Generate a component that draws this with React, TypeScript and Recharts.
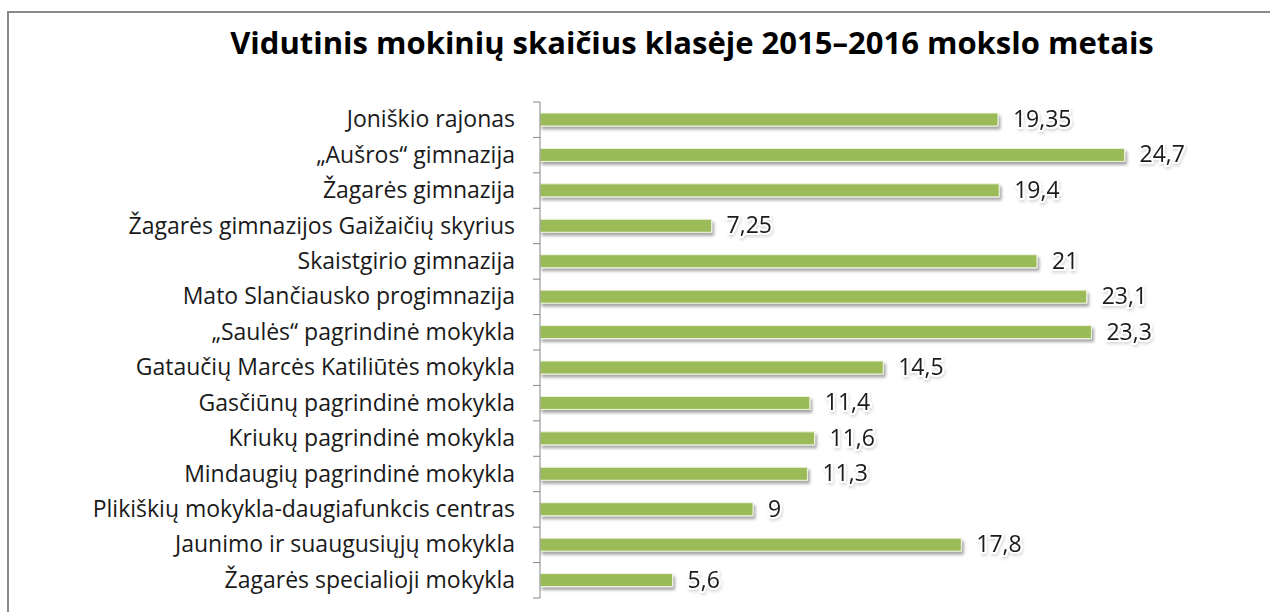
import React from "react";
import { BarChart, Bar, XAxis, YAxis, LabelList } from "recharts";

const categories = [
  "Joniškio rajonas",
  "„Aušros“ gimnazija",
  "Žagarės gimnazija",
  "Žagarės gimnazijos Gaižaičių skyrius",
  "Skaistgirio gimnazija",
  "Mato Slančiausko progimnazija",
  "„Saulės“ pagrindinė mokykla",
  "Gataučių Marcės Katiliūtės mokykla",
  "Gasčiūnų pagrindinė mokykla",
  "Kriukų pagrindinė mokykla",
  "Mindaugių pagrindinė mokykla",
  "Plikiškių mokykla-daugiafunkcis centras",
  "Jaunimo ir suaugusiųjų mokykla",
  "Žagarės specialioji mokykla",
];

const values = [19.35, 24.7, 19.4, 7.25, 21, 23.1, 23.3, 14.5, 11.4, 11.6, 11.3, 9, 17.8, 5.6];

const title = "Vidutinis mokinių skaičius klasėje 2015–2016 mokslo metais";

const data = categories.map((name, i) => ({ name, value: values[i] }));

const W = 1270;
const H = 612;
const TOP = 102;
const BOTTOM = 14;
const AXIS_X = 540;
const BAND = (H - TOP - BOTTOM) / categories.length;
const FONT = "'Open Sans', 'Noto Sans', sans-serif";

const CategoryTick = (props: any) => {
  const { y, payload, index } = props;
  const isLast = index === categories.length - 1;
  return (
    <g>
      <line x1={AXIS_X - 7} x2={AXIS_X} y1={y - BAND / 2} y2={y - BAND / 2} stroke="#868686" strokeWidth={1} />
      {isLast && (
        <line x1={AXIS_X - 7} x2={AXIS_X} y1={y + BAND / 2} y2={y + BAND / 2} stroke="#868686" strokeWidth={1} />
      )}
      <text x={AXIS_X - 25} y={y} dy={7.5} textAnchor="end" fontSize={23} fill="#1a1a1a" fontFamily={FONT}>
        {payload.value}
      </text>
    </g>
  );
};

const ValueLabel = (props: any) => {
  const { x, y, width, height, value } = props;
  const txt = String(value).replace(".", ",");
  return (
    <text
      x={x + width + 15}
      y={y + height / 2}
      dy={7.5}
      fontSize={23}
      fill="#1a1a1a"
      fontFamily={FONT}
      stroke="#ffffff"
      strokeWidth={4}
      paintOrder="stroke"
      filter="url(#lblShadow)"
    >
      {txt}
    </text>
  );
};

export default function App() {
  return (
    <div style={{ position: "absolute", left: 0, top: 0, width: W, height: H, background: "#fff", overflow: "hidden" }}>
      <svg width={0} height={0} style={{ position: "absolute" }}>
        <defs>
          <filter id="barShadow" x="-5%" y="-50%" width="110%" height="250%">
            <feDropShadow dx={2} dy={3} stdDeviation={1.6} floodColor="#000" floodOpacity={0.35} />
          </filter>
          <filter id="lblShadow" x="-20%" y="-50%" width="140%" height="200%">
            <feDropShadow dx={1} dy={2} stdDeviation={1.5} floodColor="#000" floodOpacity={0.15} />
          </filter>
        </defs>
      </svg>
      <div
        style={{
          position: "absolute",
          left: 7,
          top: 11,
          width: W,
          height: H,
          border: "2px solid #8a8a8a",
          boxSizing: "border-box",
        }}
      />
      <div
        style={{
          position: "absolute",
          left: 0,
          top: 21,
          width: 1384,
          textAlign: "center",
          fontFamily: FONT,
          fontWeight: 700,
          fontSize: 31,
          lineHeight: "42px",
          color: "#000",
          whiteSpace: "nowrap",
        }}
      >
        {title}
      </div>
      <div style={{ position: "absolute", left: 0, top: 0 }}>
        <BarChart
          width={W}
          height={H}
          data={data}
          layout="vertical"
          margin={{ top: TOP, bottom: BOTTOM, left: 0, right: 20 }}
        >
          <XAxis type="number" domain={[0, 30]} hide />
          <YAxis
            type="category"
            dataKey="name"
            width={AXIS_X}
            axisLine={{ stroke: "#868686", strokeWidth: 1 }}
            tickLine={false}
            tick={<CategoryTick />}
            interval={0}
          />
          <Bar
            dataKey="value"
            fill="#9BBB59"
            stroke="#eef4e0"
            strokeWidth={1}
            barSize={13}
            isAnimationActive={false}
            style={{ filter: "url(#barShadow)" }}
          >
            <LabelList dataKey="value" content={<ValueLabel />} />
          </Bar>
        </BarChart>
      </div>
    </div>
  );
}
